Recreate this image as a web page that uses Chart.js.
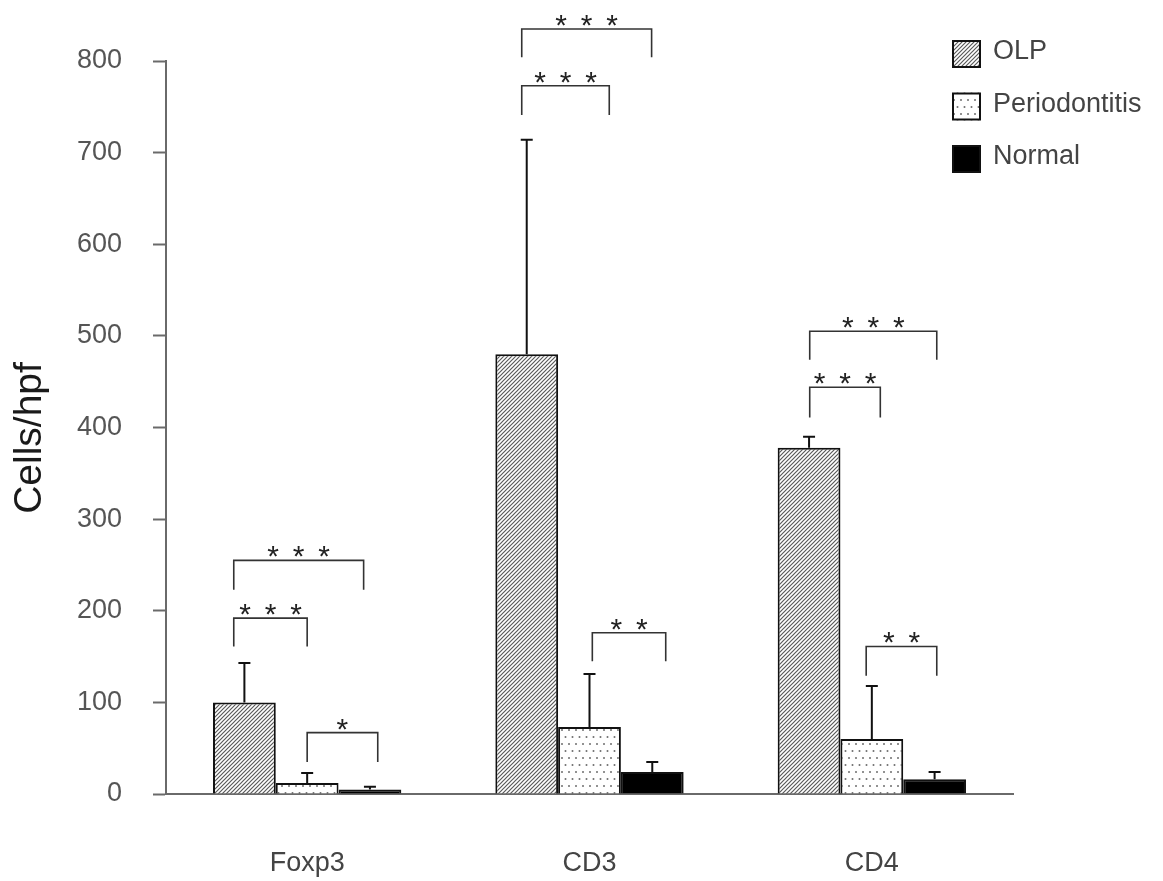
<!DOCTYPE html>
<html>
<head>
<meta charset="utf-8">
<title>Cells/hpf by marker</title>
<script src="https://cdn.jsdelivr.net/npm/chart.js@4.4.1/dist/chart.umd.min.js"></script>
<style>
  html, body { margin: 0; padding: 0; background: #ffffff; }
  #wrap { width: 1163px; height: 881px; }
</style>
</head>
<body>
<div id="wrap"><canvas id="chart" width="1163" height="881"></canvas></div>
<script>
// ---- data ----
const categories = ['Foxp3', 'CD3', 'CD4'];
const seriesNames = ['OLP', 'Periodontitis', 'Normal'];
const olpMean = [100, 480, 378];
const olpSD = [43, 234, 12];
const perioMean = [12, 73, 60];
const perioSD = [11, 58, 58];
const normalMean = [5, 24, 16];
const normalSD = [3, 11, 8];
const yTicks = [0, 100, 200, 300, 400, 500, 600, 700, 800];
const yTitle = 'Cells/hpf';

// significance brackets: x in category units, y in cells/hpf
const sigBrackets = [
  { from: -0.26, to: 0.20, top: 255, foot: 223, stars: 3 },
  { from: -0.26, to: 0.00, top: 192, foot: 161, stars: 3 },
  { from: 0.00, to: 0.25, top: 67, foot: 35, stars: 1 },
  { from: 0.76, to: 1.22, top: 835, foot: 804, stars: 3 },
  { from: 0.76, to: 1.07, top: 773, foot: 741, stars: 3 },
  { from: 1.01, to: 1.27, top: 176, foot: 145, stars: 2 },
  { from: 1.78, to: 2.23, top: 505, foot: 474, stars: 3 },
  { from: 1.78, to: 2.03, top: 444, foot: 411, stars: 3 },
  { from: 1.98, to: 2.23, top: 161, foot: 129, stars: 2 }
];

const FONT = "'Liberation Sans', Arial, Helvetica, sans-serif";

// ---- fill patterns ----
function hatchPattern() {
  const c = document.createElement('canvas');
  c.width = 4; c.height = 4;
  const g = c.getContext('2d');
  g.fillStyle = '#ffffff';
  g.fillRect(0, 0, 4, 4);
  g.strokeStyle = '#5a5a5a';
  g.lineWidth = 1.2;
  g.beginPath();
  g.moveTo(-1, 5); g.lineTo(5, -1);
  g.moveTo(-1, 1); g.lineTo(1, -1);
  g.moveTo(3, 5); g.lineTo(5, 3);
  g.stroke();
  return g.createPattern(c, 'repeat');
}
function dotPattern() {
  const c = document.createElement('canvas');
  c.width = 14; c.height = 14;
  const g = c.getContext('2d');
  g.fillStyle = '#ffffff';
  g.fillRect(0, 0, 14, 14);
  g.fillStyle = '#6e6e6e';
  [[2, 2], [9, 2], [5.5, 9], [12.5, 9]].forEach(([x, y]) => {
    g.beginPath(); g.arc(x, y, 1.0, 0, Math.PI * 2); g.fill();
  });
  return g.createPattern(c, 'repeat');
}
const fills = [hatchPattern(), dotPattern(), '#000000'];
const means = [olpMean, perioMean, normalMean];
const sds = [olpSD, perioSD, normalSD];

// ---- overlay: error bars, brackets, axis title, legend ----
const overlay = {
  id: 'overlay',
  afterDatasetsDraw(chart) {
    const ctx = chart.ctx;
    const xs = chart.scales.x, ys = chart.scales.y;
    ctx.save();

    // error bars (upper only)
    ctx.strokeStyle = '#111';
    ctx.lineWidth = 2;
    chart.data.datasets.forEach((ds, i) => {
      chart.getDatasetMeta(i).data.forEach((bar, j) => {
        const yTop = ys.getPixelForValue(means[i][j] + sds[i][j]);
        ctx.beginPath();
        ctx.moveTo(bar.x, bar.y);
        ctx.lineTo(bar.x, yTop);
        ctx.moveTo(bar.x - 6, yTop);
        ctx.lineTo(bar.x + 6, yTop);
        ctx.stroke();
      });
    });

    // significance brackets
    ctx.strokeStyle = '#333';
    ctx.lineWidth = 1.6;
    ctx.fillStyle = '#222';
    ctx.font = '30px ' + FONT;
    ctx.textAlign = 'center';
    ctx.textBaseline = 'alphabetic';
    sigBrackets.forEach(b => {
      const x0 = xs.getPixelForValue(b.from);
      const x1 = xs.getPixelForValue(b.to);
      const yt = ys.getPixelForValue(b.top);
      const yf = ys.getPixelForValue(b.foot);
      ctx.beginPath();
      ctx.moveTo(x0, yf); ctx.lineTo(x0, yt); ctx.lineTo(x1, yt); ctx.lineTo(x1, yf);
      ctx.stroke();
      const cx = (x0 + x1) / 2;
      for (let k = 0; k < b.stars; k++) {
        ctx.fillText('*', cx + (k - (b.stars - 1) / 2) * 25.5, yt + 6);
      }
    });

    // y-axis title
    ctx.save();
    ctx.translate(30, 438);
    ctx.rotate(-Math.PI / 2);
    ctx.font = '39px ' + FONT;
    ctx.fillStyle = '#1a1a1a';
    ctx.textAlign = 'center';
    ctx.textBaseline = 'middle';
    ctx.fillText(yTitle, 0, 0);
    ctx.restore();

    // legend
    const lx = 952, ly = 40, step = 52.5;
    ctx.font = '27px ' + FONT;
    ctx.textAlign = 'left';
    ctx.textBaseline = 'alphabetic';
    chart.data.datasets.forEach((ds, i) => {
      const y = ly + i * step;
      ctx.fillStyle = fills[i];
      ctx.fillRect(lx, y, 29, 28);
      ctx.strokeStyle = '#111';
      ctx.lineWidth = 2;
      ctx.strokeRect(lx + 1, y + 1, 27, 26);
      ctx.fillStyle = '#444';
      ctx.fillText(ds.label, lx + 41, y + 19);
    });
    ctx.restore();
  }
};

new Chart(document.getElementById('chart'), {
  type: 'bar',
  data: {
    labels: categories,
    datasets: seriesNames.map((name, i) => ({
      label: name,
      data: means[i],
      backgroundColor: fills[i],
      borderColor: '#111',
      borderWidth: 2,
      borderSkipped: 'bottom',
      categoryPercentage: 0.667,
      barPercentage: 1.0
    }))
  },
  options: {
    responsive: false,
    animation: false,
    events: [],
    layout: { padding: { top: 61, right: 150, bottom: 0, left: 0 } },
    plugins: { legend: { display: false }, tooltip: { enabled: false } },
    scales: {
      x: {
        grid: { display: false, drawTicks: false },
        border: { display: true, color: '#6a6a6a', width: 2 },
        ticks: { color: '#444', font: { family: FONT, size: 27 }, padding: 53 },
        afterFit(scale) { scale.height = 87; }
      },
      y: {
        min: 0, max: 800,
        afterBuildTicks(scale) { scale.ticks = yTicks.map(v => ({ value: v })); },
        grid: { display: true, drawOnChartArea: false, drawTicks: true, tickLength: 13, tickColor: '#6a6a6a', tickWidth: 2 },
        border: { display: true, color: '#6a6a6a', width: 2 },
        ticks: { color: '#555', font: { family: FONT, size: 27 }, padding: 31 },
        title: { display: false },
        afterFit(scale) { scale.width = 166; }
      }
    }
  },
  plugins: [overlay]
});
</script>
</body>
</html>
